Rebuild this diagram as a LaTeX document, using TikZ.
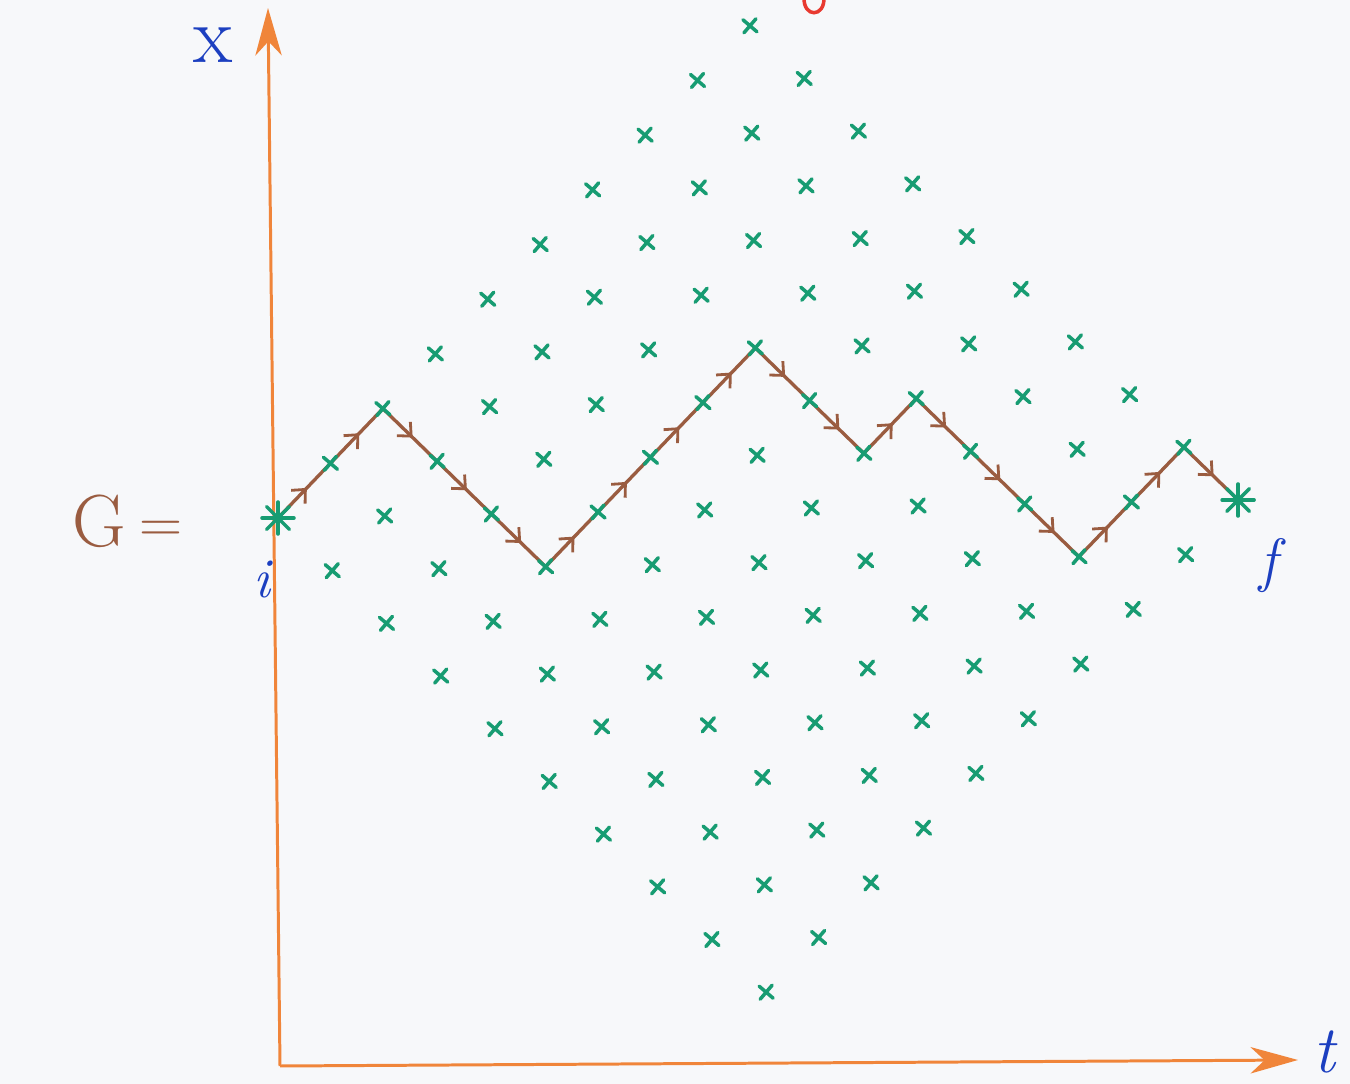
\documentclass[tikz,border=0pt]{standalone}
\usetikzlibrary{arrows.meta,decorations.markings}
\definecolor{latgreen}{HTML}{179C72}
\definecolor{pathbrown}{HTML}{9A5C40}
\definecolor{axorange}{HTML}{F0853A}
\definecolor{inkblue}{HTML}{1C3FC0}
\definecolor{inkred}{HTML}{E83A30}
\definecolor{paper}{HTML}{F7F8FA}
\begin{document}
\begin{tikzpicture}[x=0.02cm,y=-0.02cm,
  axis/.style={draw=axorange,line width=1.7pt,-{Stealth[length=27pt,width=15pt,inset=8pt]}},
  latmark/.style={draw=latgreen,line width=2pt,line cap=round},
  pathseg/.style={draw=pathbrown,line width=1.9pt,line cap=round,postaction={decorate},
    decoration={markings,mark=at position 0.55 with {\arrow{Straight Barb[length=6pt,width=11pt,line width=1.6pt]}}}},
  lbl/.style={inner sep=0pt,text=inkblue}]
\fill[paper] (0,0) rectangle (1350,1084);
\useasboundingbox (0,0) rectangle (1350,1084);
% axes
\coordinate (O) at (280,1066);
\coordinate (ytip) at (268,8);
\coordinate (xtip) at (1298,1060);
\draw[axis] (O) -- (ytip);
\draw[axis] (O) -- (xtip);
% lattice coordinates
\begin{scope}[shift={(278,518)},x={(1.067cm,0.02cm)},y={(-0.018cm,1.074cm)}]
\foreach \t in {0,...,18}{
  \pgfmathtruncatemacro\m{min(\t,18-\t)}
  \foreach \j in {0,...,\m}{
    \pgfmathtruncatemacro\xx{-\m+2*\j}
    \pgfmathtruncatemacro\k{\xx+9}
    \coordinate (p-\t-\k) at (\t,\xx);
  }
}
\end{scope}
% path
\foreach \ta/\ka/\tb/\kb in {0/9/1/10,1/10/2/11,2/11/3/10,3/10/4/9,4/9/5/8,5/8/6/9,6/9/7/10,7/10/8/11,8/11/9/12,9/12/10/11,10/11/11/10,11/10/12/11,12/11/13/10,13/10/14/9,14/9/15/8,15/8/16/9,16/9/17/10,17/10/18/9}
  \draw[pathseg] (p-\ta-\ka) -- (p-\tb-\kb);
% lattice marks
\foreach \t in {1,...,17}{
  \pgfmathtruncatemacro\m{min(\t,18-\t)}
  \foreach \j in {0,...,\m}{
    \pgfmathtruncatemacro\k{9-\m+2*\j}
    \draw[latmark] (p-\t-\k) +(-7,-6) -- +(7,6) +(-6,7) -- +(6,-7);
  }
}
% start and end asterisks
\foreach \a in {0,45,90,135}{
  \draw[latmark] (p-0-9) +(\a:16) -- +(\a+180:16);
  \draw[latmark] (p-18-9) +(\a:16) -- +(\a+180:16);
}
% labels
\node[lbl] (xlab) at (213,45) {\fontsize{46}{48}\selectfont x};
\node[lbl] (tlab) at (1324,1052) {\fontsize{38}{40}\selectfont\itshape t};
\node[lbl] (ilab) at (262,580) {\fontsize{32}{34}\selectfont\itshape i};
\node[lbl] (flab) at (1268,566) {\fontsize{34}{36}\selectfont\itshape f};
\node[lbl,text=pathbrown] (Glab) at (99,521) {\fontsize{42}{44}\selectfont G};
\node[lbl,text=pathbrown] (eqlab) at (161,532) {\fontsize{34}{36}\selectfont =};
% cut-off red mark at top
\draw[inkred,line width=2pt] (804,-3) .. controls (803,18) and (825,18) .. (824,-3);
\end{tikzpicture}
\end{document}
